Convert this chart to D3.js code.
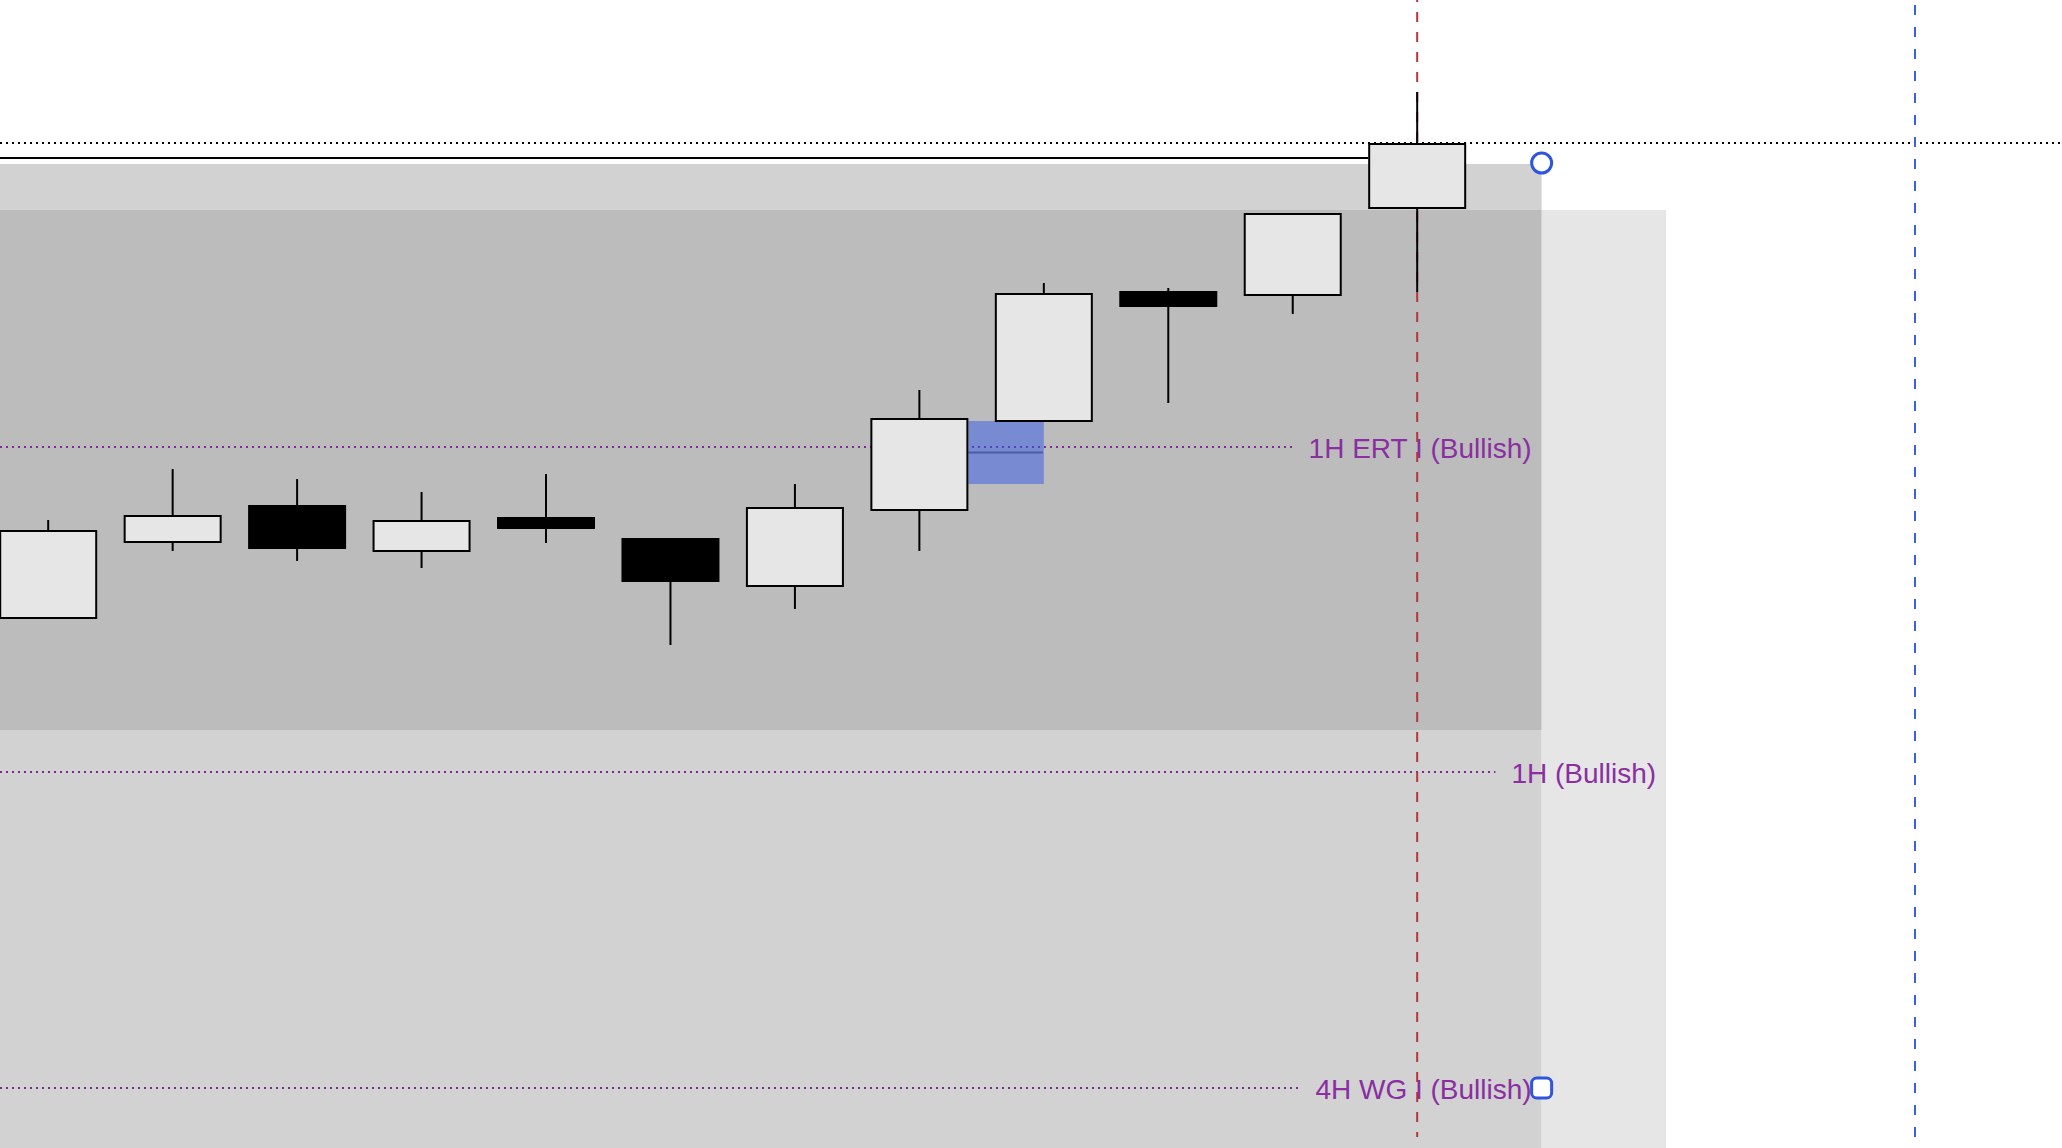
<!DOCTYPE html>
<html><head><meta charset="utf-8">
<script src="https://cdn.jsdelivr.net/npm/d3@7"></script>
<style>html,body{margin:0;padding:0;background:#fff;overflow:hidden}</style>
</head><body>
<svg id="c" width="2062" height="1148"></svg>
<script>
// ---- data ----
const barIndex = [0,1,2,3,4,5,6,7,8,9,10,11];
const opens  = [21245.5,21264.5,21273.5,21262.25,21270.5,21265.25,21253.5,21272.5,21294.75,21327,21326.25,21348];
const highs  = [21270,21282.75,21280.25,21277,21281.5,21265.25,21279,21302.5,21329.25,21328,21346.75,21377];
const lows   = [21245.5,21262.25,21259.75,21258,21264.25,21238.75,21247.75,21262.25,21294.75,21299.25,21321.5,21327];
const closes = [21267.25,21271,21263,21269.75,21268,21254.75,21273,21295.25,21326.5,21323.5,21346.5,21364];

const zoneTops    = [21359, 21347.5, 21347.5];
const zoneBottoms = [21100, 21217.5, 21100];
const zoneFrom    = [-1, -1, 12];
const zoneTo      = [12, 12, 13];

const levelLabels = ["1H ERT I (Bullish)", "1H (Bullish)", "4H WG I (Bullish)"];
const levelPrices = [21288.25, 21207, 21128];
const levelEnd    = [12, 13, 12];

const fvgLow = 21279, fvgHigh = 21294.75, fvgFrom = 7, fvgTo = 8;
const lastPrice = 21364.25;
const swingHigh = 21360.5, swingHighEnd = 11;
const nowIndex = 11, futureIndex = 15;
const priceTop = 21400, priceBottom = 21113;

// ---- scales ----
const W = 2062, H = 1148;
const svg = d3.select("#c");
const x = d3.scaleLinear().domain([0, 15]).range([48.2, 1915]);
const y = d3.scaleLinear().domain([priceTop, priceBottom]).range([0, H]);
const bodyW = 96;

// zones
const zoneColors = ["#d2d2d2", "#bcbcbc", "#e6e6e6"];
svg.append("g").selectAll("rect").data(zoneTops).join("rect")
  .attr("x", (d,i) => zoneFrom[i] < 0 ? 0 : x(zoneFrom[i]))
  .attr("width", (d,i) => x(zoneTo[i]) - (zoneFrom[i] < 0 ? 0 : x(zoneFrom[i])))
  .attr("y", d => y(d))
  .attr("height", (d,i) => y(zoneBottoms[i]) - y(d))
  .attr("fill", (d,i) => zoneColors[i]);

// last price dotted line
svg.append("line").attr("x1", 0).attr("x2", W)
  .attr("y1", y(lastPrice)).attr("y2", y(lastPrice))
  .attr("stroke", "#000").attr("stroke-width", 2).attr("stroke-dasharray", "2,4");

// swing high solid line
svg.append("line").attr("x1", 0).attr("x2", x(swingHighEnd) - bodyW/2 - 1)
  .attr("y1", y(swingHigh)).attr("y2", y(swingHigh))
  .attr("stroke", "#000").attr("stroke-width", 2);

// level labels and dotted lines
const lv = svg.append("g");
levelLabels.forEach((lab, i) => {
  const t = lv.append("text")
    .attr("x", x(levelEnd[i]) - 10)
    .attr("y", y(levelPrices[i]) + 1)
    .attr("text-anchor", "end")
    .attr("dominant-baseline", "central")
    .attr("font-family", "'Liberation Sans', Arial, sans-serif")
    .attr("font-size", 28)
    .attr("fill", "#8a2ea2")
    .text(lab);
  const len = t.node().getComputedTextLength();
  lv.insert("line", "text")
    .attr("x1", 0).attr("x2", x(levelEnd[i]) - 10 - len - 16)
    .attr("y1", y(levelPrices[i])).attr("y2", y(levelPrices[i]))
    .attr("stroke", "#7b2a90").attr("stroke-width", 2).attr("stroke-dasharray", "2,4");
});

// vertical red dashed line (now)
svg.append("line").attr("x1", x(nowIndex)).attr("x2", x(nowIndex))
  .attr("y1", 0).attr("y2", 1137)
  .attr("stroke", "#b8343e").attr("stroke-width", 2)
  .attr("stroke-dasharray", "10,10").attr("stroke-dashoffset", 8);

// candles
const cg = svg.append("g");
cg.selectAll("line.wick").data(barIndex).join("line").attr("class", "wick")
  .attr("x1", i => x(i)).attr("x2", i => x(i))
  .attr("y1", i => y(highs[i])).attr("y2", i => y(lows[i]))
  .attr("stroke", "#000").attr("stroke-width", 2);

// FVG
svg.append("rect")
  .attr("x", x(fvgFrom) + bodyW/2 + 1)
  .attr("width", x(fvgTo) - x(fvgFrom) - bodyW/2 - 1)
  .attr("y", y(fvgHigh)).attr("height", y(fvgLow) - y(fvgHigh))
  .attr("fill", "#3157e7").attr("fill-opacity", 0.5);
svg.append("line")
  .attr("x1", x(fvgFrom) + bodyW/2 + 1).attr("x2", x(fvgTo) - 1)
  .attr("y1", y((fvgLow + fvgHigh) / 2)).attr("y2", y((fvgLow + fvgHigh) / 2))
  .attr("stroke", "#4a5ea6").attr("stroke-width", 2);

svg.append("g").selectAll("rect").data(barIndex).join("rect")
  .attr("x", i => x(i) - bodyW/2)
  .attr("width", bodyW)
  .attr("y", i => y(Math.max(opens[i], closes[i])))
  .attr("height", i => Math.max(1, Math.abs(y(opens[i]) - y(closes[i]))))
  .attr("fill", i => closes[i] >= opens[i] ? "#e6e6e6" : "#000")
  .attr("stroke", "#000").attr("stroke-width", 2);

// future blue dashed line
svg.append("line").attr("x1", x(futureIndex)).attr("x2", x(futureIndex))
  .attr("y1", 0).attr("y2", 1137)
  .attr("stroke", "#3a5fe8").attr("stroke-width", 2)
  .attr("stroke-dasharray", "10,12").attr("stroke-dashoffset", 17);

// handles
svg.append("circle").attr("cx", x(zoneTo[0])).attr("cy", y(zoneTops[0]) - 1).attr("r", 10)
  .attr("fill", "#fff").attr("stroke", "#2f55e0").attr("stroke-width", 3);
svg.append("rect").attr("x", x(levelEnd[2]) - 10).attr("y", y(levelPrices[2]) - 10)
  .attr("width", 20).attr("height", 20).attr("rx", 5)
  .attr("fill", "#fff").attr("stroke", "#2f55e0").attr("stroke-width", 3);
</script>
</body></html>
